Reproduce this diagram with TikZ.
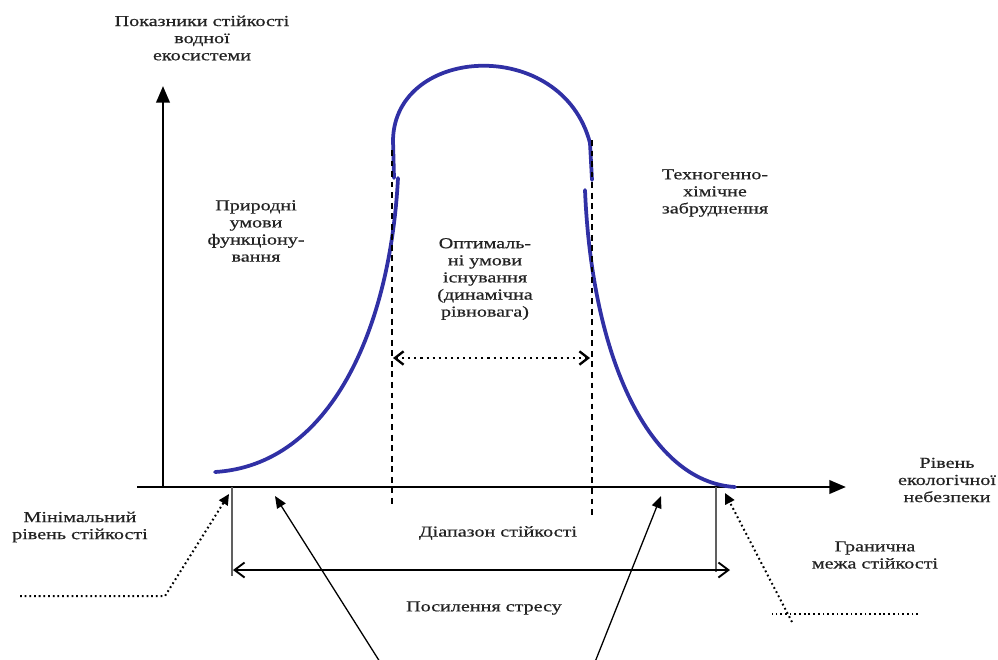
\documentclass[tikz,border=0pt]{standalone}
\usepackage{fontspec}
\setmainfont[FakeStretch=1.32,FakeBold=0.6]{Liberation Serif}
\usetikzlibrary{arrows.meta}
\definecolor{curveblue}{RGB}{48,48,165}
\definecolor{txtgray}{RGB}{35,35,35}

\begin{document}
\begin{tikzpicture}[x=0.03cm,y=-0.03cm,line width=0.8pt,>=Stealth,
  axis/.style={->,line width=2.4pt,>={Triangle[length=5mm,width=4mm]}},
  curve/.style={curveblue,line width=3.2pt,line cap=round},
  bound/.style={black,line width=1.6pt,dash pattern=on 5pt off 4pt},
  limline/.style={gray!75!black,line width=1.7pt},
  span/.style={<->,line width=1.6pt,>={Straight Barb[length=3mm,width=4.5mm]}},
  optspan/.style={<->,line width=2pt,dash pattern=on 1.8pt off 3.4pt,>={Straight Barb[length=2.6mm,width=4mm]}},
  lead/.style={line width=1.7pt,dash pattern=on 1.5pt off 2.5pt},
  leadar/.style={lead,->,>={Triangle[length=3.2mm,width=3mm]}},
  stressar/.style={->,line width=1.1pt,>={Triangle[length=3.6mm,width=3mm]}},
  lbl/.style={align=center,font=\fontsize{13}{14.6}\selectfont,text=txtgray,inner sep=0pt}]
\useasboundingbox (0,0) rectangle (998,659);
% axes
\coordinate (xstart) at (137,487);
\coordinate (xend) at (846,487);
\coordinate (ystart) at (163,487);
\coordinate (yend) at (163,86);
\draw[axis] (xstart) -- (xend);
\draw[axis] (ystart) -- (yend);
% stability curve: lower left, top cap, lower right
\draw[curve] (215,472) .. controls (330,465) and (390,330) .. (398,178);
\draw[curve] (394,178) -- (393,140) .. controls (395,45) and (562,36) .. (590,143) -- (592,180);
\draw[curve] (585,190) .. controls (592,360) and (650,482) .. (735,487);
% borders of the optimum
\coordinate (optL) at (392,150);
\coordinate (optR) at (592,140);
\draw[bound] (optL) -- (392,508);
\draw[bound] (optR) -- (592,515);
\coordinate (optA) at (393,358);
\coordinate (optB) at (590,358);
\draw[optspan] (optA) -- (optB);
% stability range marks
\coordinate (minpt) at (232,487);
\coordinate (maxpt) at (716,487);
\draw[limline] (minpt) -- (232,576);
\draw[limline] (maxpt) -- (716,572);
\coordinate (spanA) at (233,570);
\coordinate (spanB) at (730,570);
\draw[span] (spanA) -- (spanB);
% leaders to the limits
\draw[leadar] (20,596) -- (165,596) -- (229,494);
\draw[lead] (918,614) -- (772,614);
\draw[leadar] (792,622) -- (725,493);
% stress arrows
\coordinate (stressL) at (380,662);
\coordinate (stressR) at (595,662);
\draw[stressar] (stressL) -- (275,496);
\draw[stressar] (stressR) -- (661,496);
% labels
\node[lbl] (yname) at (202,38) {Показники стійкості\\водної\\екосистеми};
\node[lbl] (natural) at (256,231) {Природні\\умови\\функціону-\\вання};
\node[lbl] (optimal) at (485,279) {Оптималь-\\ні умови\\існування\\(динамічна\\рівновага)};
\node[lbl] (techno) at (715,193) {Техногенно-\\хімічне\\забруднення};
\node[lbl] (xname) at (947,480) {Рівень\\екологічної\\небезпеки};
\node[lbl] (minlev) at (80,527) {Мінімальний\\рівень стійкості};
\node[lbl] (range) at (498,533) {Діапазон стійкості};
\node[lbl] (stress) at (484,608) {Посилення стресу};
\node[lbl] (limit) at (875,555) {Гранична\\межа стійкості};
\end{tikzpicture}
\end{document}
